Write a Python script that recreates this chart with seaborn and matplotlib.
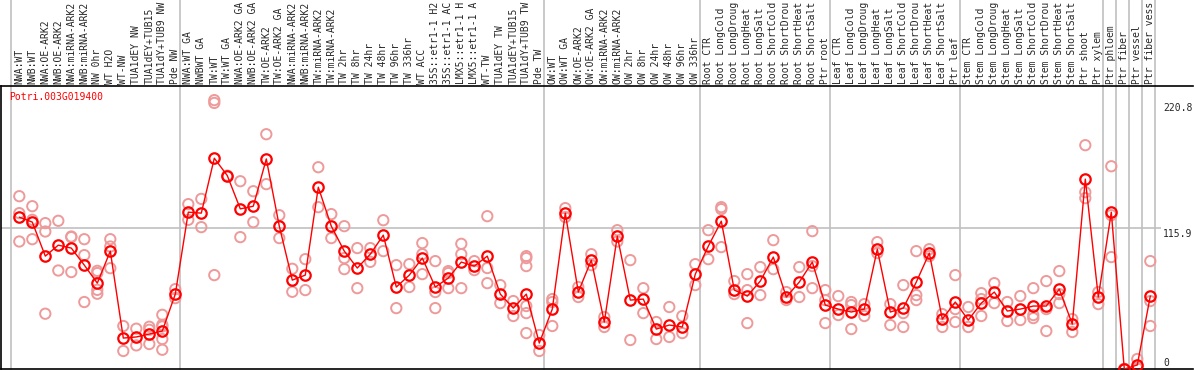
import numpy as np
import pandas as pd
import matplotlib
matplotlib.use("Agg")
import matplotlib.pyplot as plt
import seaborn as sns

GENE = "Potri.003G019400"

# sample names as the viewer prints them (cut to 14 characters)
SAMPLES = [
    "NWA:WT", "NWB:WT", "NWA:OE-ARK2", "NWB:OE-ARK2", "NWA:miRNA-ARK2",
    "NWB:miRNA-ARK2", "NW 0hr", "WT H2O", "WT-NW", "TUA1dEY NW",
    "TUA1dEY+TUB15", "TUA1dY+TUB9 NW", "Pde NW",
    "NWA:WT GA", "NWBWT GA", "TW:WT", "TW:WT GA", "NWA:OE-ARK2 GA",
    "NWB:OE-ARK2 GA", "TW:OE-ARK2", "TW:OE-ARK2 GA", "NWA:miRNA-ARK2",
    "NWB:miRNA-ARK2", "TW:miRNA-ARK2", "TW:miRNA-ARK2", "TW 2hr", "TW 8hr",
    "TW 24hr", "TW 48hr", "TW 96hr", "TW 336hr", "WT ACC",
    "35S::etr1-1 H2", "35S::etr1-1 AC", "LMX5::etr1-1 H",
    "LMX5::etr1-1 A", "WT-TW", "TUA1dEY TW", "TUA1dEY+TUB15",
    "TUA1dY+TUB9 TW", "Pde TW",
    "OW:WT", "OW:WT GA", "OW:OE-ARK2", "OW:OE-ARK2 GA", "OW:miRNA-ARK2",
    "OW:miRNA-ARK2", "OW 2hr", "OW 8hr", "OW 24hr", "OW 48hr", "OW 96hr",
    "OW 336hr",
    "Root CTR", "Root LongCold", "Root LongDroug", "Root LongHeat",
    "Root LongSalt", "Root ShortCold", "Root ShortDrou", "Root ShortHeat",
    "Root ShortSalt", "Ptr root",
    "Leaf CTR", "Leaf LongCold", "Leaf LongDroug", "Leaf LongHeat",
    "Leaf LongSalt", "Leaf ShortCold", "Leaf ShortDrou", "Leaf ShortHeat",
    "Leaf ShortSalt", "Ptr leaf",
    "Stem CTR", "Stem LongCold", "Stem LongDroug", "Stem LongHeat",
    "Stem LongSalt", "Stem ShortCold", "Stem ShortDrou", "Stem ShortHeat",
    "Stem ShortSalt", "Ptr shoot", "Ptr xylem", "Ptr phloem", "Ptr fiber",
    "Ptr vessel", "Ptr fiber vess",
]

MEANS = [
    124.7, 120.6, 92.7, 101.7, 99.3, 85.3, 70.5, 96.8, 25.4, 26.3,
    28.7, 31.2, 61.5, 128.8, 128.0, 173.1, 158.8, 131.5, 133.7, 172.5,
    117.3, 73.0, 77.1, 149.3, 117.3, 96.8, 82.9, 94.3, 109.9, 67.3,
    77.1, 91.1, 67.3, 74.7, 87.8, 84.5, 92.7, 61.5, 50.0, 61.5,
    21.3, 49.2, 128.0, 63.2, 89.4, 38.6, 109.1, 56.6, 57.4, 32.8,
    36.1, 34.5, 77.9, 100.9, 121.4, 64.8, 59.9, 72.2, 91.9, 59.1,
    71.4, 87.8, 52.5, 49.2, 46.8, 49.2, 98.4, 46.8, 50.0, 71.4,
    95.2, 41.0, 55.0, 40.2, 54.1, 63.2, 47.6, 49.2, 51.7, 51.7,
    65.6, 36.9, 155.9, 59.1, 128.8, 0.0, 3.3, 59.9,
]

REPS = [
    [141.9, 128.0, 104.7], [133.7, 122.5, 106.6], [119.8, 112.9, 45.4],
    [121.7, 80.9], [108.8, 108.3, 79.6], [106.6, 93.5, 55.0],
    [80.6, 78.8, 65.0, 61.8], [106.6, 100.6, 82.8], [35.3, 14.8],
    [33.1, 19.4], [34.7, 32.2, 20.5], [44.5, 36.3, 34.9, 24.6, 15.8],
    [65.6, 58.2], [135.4, 122.5], [139.7, 116.5], [220.8, 218.5, 77.1],
    [158.8], [154.2, 108.3], [146.0, 120.6], [192.8, 151.8],
    [126.3, 107.5], [82.3, 63.4], [90.2, 64.8], [165.7, 132.9],
    [127.2, 107.5], [117.3, 91.1, 82.0], [99.3, 66.4], [99.3, 88.0],
    [122.2, 96.8], [85.3, 50.0], [86.1, 67.3], [103.4, 94.3, 77.9],
    [88.6, 63.2, 50.0], [80.4, 78.8, 66.4], [102.8, 94.3, 66.4],
    [88.6, 81.2], [125.5, 82.9, 70.5], [68.9, 54.1], [55.8, 43.5],
    [92.7, 91.1, 84.5, 51.7, 45.9, 29.5], [27.9, 14.8], [57.4, 55.0, 35.3],
    [132.1, 124.7], [67.3, 59.1], [94.3, 85.3], [42.7, 34.5],
    [114.0, 104.7], [89.4, 23.8], [66.4, 45.9], [38.6, 24.6],
    [50.9, 26.3], [43.5, 29.5], [86.1, 68.9], [114.0, 90.2],
    [132.9, 131.3, 100.1], [72.2, 61.5], [77.9, 64.8, 37.7], [83.7, 60.7],
    [105.8, 82.0], [63.2, 56.6], [83.7, 59.1], [113.2, 84.5, 66.4],
    [64.8, 56.6, 37.7], [59.9, 44.3], [55.0, 52.5, 32.8], [53.3, 43.5],
    [104.2, 95.2], [53.3, 36.1], [68.9, 45.9, 34.5], [96.8, 60.7, 56.6],
    [98.4, 92.7], [45.1, 34.5], [77.1, 49.2, 38.6], [50.9, 34.5],
    [62.3, 57.4, 43.5], [70.5, 54.1], [55.0, 39.4], [59.9, 40.2],
    [66.4, 44.3, 41.8], [72.2, 49.2, 31.2], [80.4, 61.5, 54.1],
    [41.0, 30.4], [183.8, 145.2, 140.3], [63.2, 53.3],
    [166.5, 126.3, 91.9], [0.0, 0.0, 0.0], [8.2, 0.9, 0.8],
    [88.6, 55.8, 35.3],
]

# gray separators sit just before these sample indices
GROUP_STARTS = [0, 13, 41, 53, 63, 73, 84, 85, 86, 87, 88]
Y_TICKS = [0, 115.9, 220.8]
Y_TICK_TOPS = [358, 229, 103]   # pixel row of each label's top edge

W, H = 1194, 370
FONT = "DejaVu Sans Mono"
FS = 7.0


def px_x(p):
    # pixel column -> sample index units
    return (p - 19.3) / 13.0


def main():
    sns.set_style("white")
    plt.rcParams["font.family"] = [FONT, "DejaVu Sans"]

    fig = plt.figure(figsize=(W / 100, H / 100), dpi=100)
    ax = fig.add_axes([1 / W, 1 / H, 1192 / W, 283 / H])
    ax.set_xlim(px_x(1), px_x(1193))
    ax.set_ylim(0, 232.4)

    x = np.arange(len(SAMPLES))
    mean_df = pd.DataFrame({"x": x, "value": MEANS})
    rep_df = pd.DataFrame([(i, v) for i, r in enumerate(REPS) for v in r],
                          columns=["x", "value"])

    for g in GROUP_STARTS:
        ax.axvline(g - 0.62, ymin=0, ymax=370 / 283, color="#c0c0c0",
                   lw=1.2, clip_on=False, zorder=0)
    ax.hlines(Y_TICKS[1], px_x(0), px_x(1161), color="#c0c0c0", lw=1.2,
              zorder=0)

    sns.scatterplot(data=rep_df, x="x", y="value", ax=ax, marker="o",
                    s=55, facecolors="none", edgecolor="#ee9a9a",
                    linewidth=1.4, zorder=2, legend=False)
    sns.lineplot(data=mean_df, x="x", y="value", ax=ax, color="#ff0000",
                 lw=1.0, marker="o", markersize=7.5, markerfacecolor="none",
                 markeredgecolor="#ff0000", markeredgewidth=1.6, zorder=3)

    ax.set_xticks(x)
    ax.set_xticklabels(SAMPLES, rotation=90, fontsize=FS, family=FONT)
    ax.xaxis.tick_top()
    ax.tick_params(axis="x", length=0, pad=1.5)
    ax.set_yticks([])
    ax.set_xlabel(""); ax.set_ylabel("")

    for v, top in zip(Y_TICKS, Y_TICK_TOPS):
        fig.text(1163 / W, 1 - top / H, f"{v:g}", fontsize=FS, family=FONT,
                 ha="left", va="top")
    fig.text(9 / W, 1 - 97 / H, GENE, fontsize=FS, family=FONT,
             color="#ff0000", ha="left", va="center")

    for side in ["left", "bottom", "top"]:
        ax.spines[side].set_color("black")
        ax.spines[side].set_linewidth(1.2)
    ax.spines["right"].set_visible(False)

    fig.savefig("out.png", dpi=100)
    plt.close(fig)


if __name__ == "__main__":
    main()
